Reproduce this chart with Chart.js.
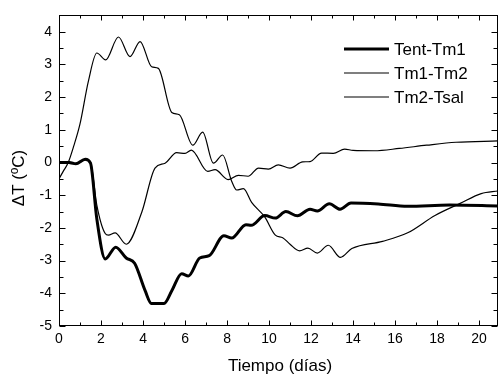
<!DOCTYPE html>
<html>
<head>
<meta charset="utf-8">
<script src="https://cdn.jsdelivr.net/npm/chart.js@4.4.0/dist/chart.umd.min.js"></script>
<style>
  html, body { margin: 0; padding: 0; background: #fff; }
</style>
</head>
<body>
<canvas id="chart" width="500" height="377"></canvas>
<script>
// Diferencias de temperatura entre sensores frente al tiempo (días)
const dTentTm1 = [0, 0.5, 0.8, 1.25, 1.5, 1.8, 2.2, 2.7, 3.2, 3.6, 4.1, 4.4, 5.0, 5.37, 5.84, 6.16, 6.7, 7.15, 7.85, 8.22, 8.9, 9.15, 9.8, 10.3, 10.8, 11.35, 11.95, 12.3, 12.87, 13.38, 13.9, 15.2, 16.6, 18.6, 20.9];
const vTentTm1 = [0, 0, -0.04, 0.1, -0.02, -1.72, -2.95, -2.59, -2.92, -3.08, -3.92, -4.31, -4.31, -3.92, -3.4, -3.47, -2.92, -2.85, -2.24, -2.31, -1.9, -1.92, -1.62, -1.7, -1.5, -1.63, -1.43, -1.48, -1.26, -1.43, -1.24, -1.27, -1.34, -1.3, -1.33];

const dTm1Tm2 = [0, 0.2, 0.44, 0.7, 1.0, 1.4, 1.8, 2.22, 2.83, 3.38, 3.86, 4.41, 4.73, 5.37, 5.73, 6.37, 6.84, 7.35, 7.79, 8.22, 8.46, 8.78, 9.17, 9.8, 10.3, 10.65, 11.0, 11.45, 11.85, 12.3, 12.82, 13.4, 13.94, 15.4, 16.6, 17.9, 19.1, 20.1, 20.9];
const vTm1Tm2 = [-0.5, -0.27, 0, 0.5, 1.18, 2.49, 3.35, 3.14, 3.84, 3.24, 3.7, 2.93, 2.88, 1.53, 1.46, 0.53, 0.93, -0.02, 0.23, -0.57, -0.84, -0.8, -1.22, -1.67, -2.22, -2.3, -2.5, -2.7, -2.62, -2.77, -2.53, -2.9, -2.63, -2.41, -2.15, -1.62, -1.25, -0.95, -0.87];

const dTm2Tsal = [0, 0.8, 1.25, 1.5, 1.8, 2.2, 2.35, 2.67, 3.2, 3.94, 4.57, 5.05, 5.6, 6.0, 6.3, 7.08, 7.43, 8.05, 8.54, 9.0, 9.5, 9.97, 10.44, 11.0, 11.6, 11.95, 12.5, 13.06, 13.6, 14.0, 15.0, 16.2, 17.5, 18.9, 20.9];
const vTm2Tsal = [0, -0.04, 0.08, 0, -1.3, -2.17, -2.22, -2.15, -2.5, -1.52, -0.17, -0.02, 0.3, 0.28, 0.38, -0.27, -0.22, -0.52, -0.39, -0.42, -0.17, -0.2, -0.07, -0.17, 0.02, 0.03, 0.29, 0.28, 0.41, 0.37, 0.36, 0.43, 0.53, 0.62, 0.66];

const xTicks = [0, 2, 4, 6, 8, 10, 12, 14, 16, 18, 20];
const yTicks = [-5, -4, -3, -2, -1, 0, 1, 2, 3, 4];

const FONT = "'Liberation Sans', Arial, sans-serif";

const toPoints = (xs, ys) => xs.map((x, i) => ({ x: x, y: ys[i] }));

// Marco con marcas de escala hacia dentro en los cuatro lados
const frameTicks = {
    id: 'frameTicks',
    afterDatasetsDraw(chart) {
        const { ctx, chartArea: a, scales: { x, y } } = chart;
        const L = Math.round(a.left) + 0.5, R = Math.round(a.right) - 0.5;
        const T = Math.round(a.top) + 0.5, B = Math.round(a.bottom) - 0.5;
        ctx.save();
        ctx.strokeStyle = '#000';
        ctx.lineWidth = 1;
        ctx.strokeRect(L, T, R - L, B - T);
        ctx.beginPath();
        for (let v = 0; v <= x.max + 1e-6; v += 1) {
            const px = Math.round(x.getPixelForValue(v)) + 0.5;
            const len = v % 2 === 0 ? 5 : 3;
            ctx.moveTo(px, B); ctx.lineTo(px, B - len);
            ctx.moveTo(px, T); ctx.lineTo(px, T + len);
        }
        for (let v = y.min; v <= y.max + 1e-6; v += 0.5) {
            const py = Math.round(y.getPixelForValue(v)) + 0.5;
            const len = Number.isInteger(v) ? 6 : 4;
            ctx.moveTo(L, py); ctx.lineTo(L + len, py);
            ctx.moveTo(R, py); ctx.lineTo(R - len, py);
        }
        ctx.stroke();
        ctx.restore();
    },
    afterDraw(chart) {
        const { ctx } = chart;
        ctx.save();
        ctx.fillStyle = '#000';
        ctx.strokeStyle = '#000';
        ctx.font = '17px ' + FONT;

        // leyenda
        ctx.textAlign = 'left';
        ctx.textBaseline = 'middle';
        chart.data.datasets.forEach((ds, i) => {
            const ly = 49 + i * 24;
            ctx.lineWidth = ds.borderWidth;
            ctx.beginPath();
            ctx.moveTo(344, ly);
            ctx.lineTo(389, ly);
            ctx.stroke();
            ctx.fillText(ds.label, 394, ly + 1);
        });

        // títulos de ejes
        ctx.textAlign = 'center';
        ctx.fillText('Tiempo (días)', 280, 366);
        ctx.translate(19, 178);
        ctx.rotate(-Math.PI / 2);
        ctx.fillText('ΔT (ºC)', 0, 0);
        ctx.restore();
    }
};

new Chart(document.getElementById('chart'), {
    type: 'line',
    data: {
        datasets: [
            { label: 'Tent-Tm1', data: toPoints(dTentTm1, vTentTm1), borderWidth: 3 },
            { label: 'Tm1-Tm2', data: toPoints(dTm1Tm2, vTm1Tm2), borderWidth: 1.2 },
            { label: 'Tm2-Tsal', data: toPoints(dTm2Tsal, vTm2Tsal), borderWidth: 1.2 }
        ]
    },
    options: {
        responsive: false,
        animation: false,
        devicePixelRatio: 1,
        layout: { padding: { top: 9, right: 2, left: 0, bottom: 0 } },
        elements: {
            point: { radius: 0 },
            line: { borderColor: '#000', cubicInterpolationMode: 'monotone', fill: false }
        },
        plugins: {
            legend: { display: false },
            tooltip: { enabled: false }
        },
        scales: {
            x: {
                type: 'linear',
                min: 0,
                max: 20.9,
                grid: { display: false, drawTicks: false },
                border: { display: false },
                ticks: { color: '#000', font: { family: FONT, size: 14 }, padding: 5, maxRotation: 0 },
                afterBuildTicks: s => { s.ticks = xTicks.map(v => ({ value: v })); },
                afterFit: s => { s.height = 51; }
            },
            y: {
                type: 'linear',
                min: -5,
                max: 4.5,
                grid: { display: false, drawTicks: false },
                border: { display: false },
                ticks: { color: '#000', font: { family: FONT, size: 14 }, padding: 7 },
                afterBuildTicks: s => { s.ticks = yTicks.map(v => ({ value: v })); },
                afterFit: s => { s.width = 59; }
            }
        }
    },
    plugins: [frameTicks]
});
</script>
</body>
</html>
